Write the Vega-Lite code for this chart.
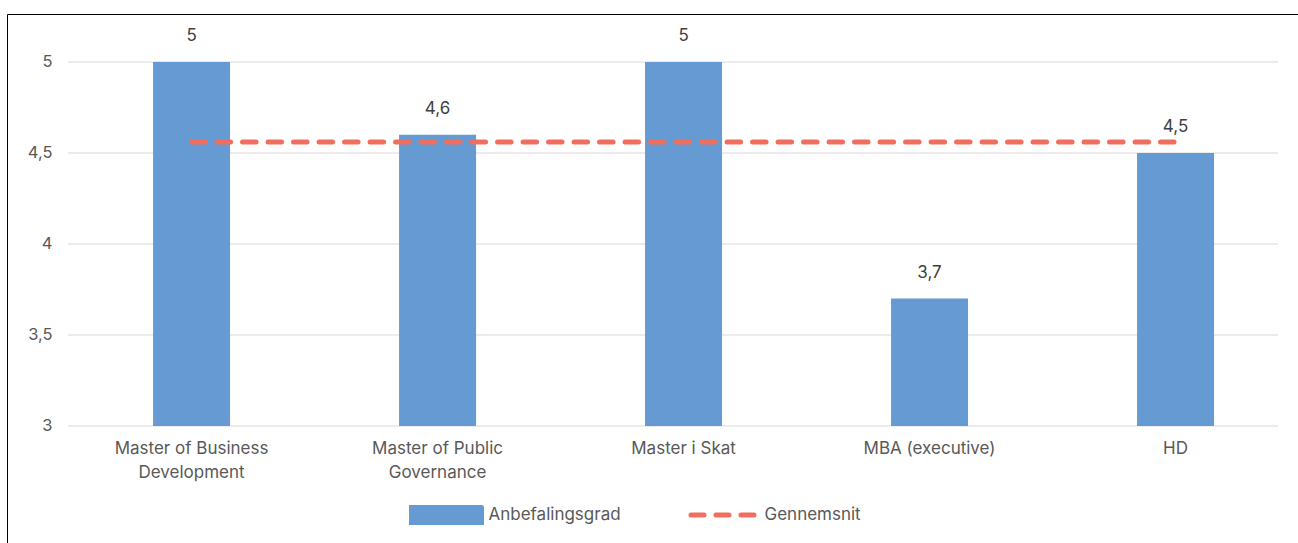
{
  "$schema": "https://vega.github.io/schema/vega-lite/v6.json",
  "width": 1291,
  "height": 530,
  "autosize": "none",
  "padding": {"left": 7, "top": 14, "right": 0, "bottom": 0},
  "background": "white",
  "config": {
    "view": {"stroke": "#000000", "strokeWidth": 1},
    "font": "Inter",
    "locale": {"number": {"decimal": ",", "thousands": ".", "grouping": [3], "currency": ["", " kr."]}}
  },
  "datasets": {
    "main": [
      {"uddannelse": "Master of Business Development", "Anbefalingsgrad": 5, "Gennemsnit": 4.56},
      {"uddannelse": "Master of Public Governance", "Anbefalingsgrad": 4.6, "Gennemsnit": 4.56},
      {"uddannelse": "Master i Skat", "Anbefalingsgrad": 5, "Gennemsnit": 4.56},
      {"uddannelse": "MBA (executive)", "Anbefalingsgrad": 3.7, "Gennemsnit": 4.56},
      {"uddannelse": "HD", "Anbefalingsgrad": 4.5, "Gennemsnit": 4.56}
    ],
    "grid": [{"v": 3}, {"v": 3.5}, {"v": 4}, {"v": 4.5}, {"v": 5}]
  },
  "layer": [
    {
      "data": {"name": "grid"},
      "mark": {"type": "rule", "color": "#D9D9D9", "strokeWidth": 1},
      "encoding": {
        "y": {"field": "v", "type": "quantitative"},
        "x": {"datum": "Master of Business Development", "type": "nominal", "bandPosition": -1.104},
        "x2": {"datum": "HD", "bandPosition": 1.831}
      }
    },
    {
      "data": {"name": "main"},
      "mark": {"type": "bar"},
      "encoding": {
        "x": {
          "field": "uddannelse",
          "type": "nominal",
          "sort": null,
          "scale": {
            "domain": ["Master of Business Development", "Master of Public Governance", "Master i Skat", "MBA (executive)", "HD"],
            "paddingInner": 0.687,
            "paddingOuter": 0.4675,
            "align": 0.635
          },
          "axis": {
            "orient": "bottom",
            "offset": -118,
            "domain": false,
            "ticks": false,
            "tickSize": 0,
            "grid": false,
            "title": null,
            "labelAngle": 0,
            "labelAlign": "center",
            "labelLimit": 0,
            "labelFont": "Inter",
            "labelFontSize": 17,
            "labelColor": "#595959",
            "labelPadding": 14,
            "labelBaseline": "top",
            "labelLineHeight": 24,
            "labelExpr": "datum.value == 'Master of Business Development' ? ['Master of Business', 'Development'] : datum.value == 'Master of Public Governance' ? ['Master of Public', 'Governance'] : datum.label"
          }
        },
        "y": {
          "field": "Anbefalingsgrad",
          "type": "quantitative",
          "scale": {"domain": [2.351648, 5.263736], "nice": false, "zero": false},
          "axis": {
            "orient": "left",
            "offset": -61,
            "values": [3, 3.5, 4, 4.5, 5],
            "format": "~g",
            "domain": false,
            "ticks": false,
            "tickSize": 0,
            "grid": false,
            "title": null,
            "labelFont": "Inter",
            "labelFontSize": 16.5,
            "labelColor": "#595959",
            "labelPadding": 16
          }
        },
        "y2": {"datum": 3},
        "color": {
          "datum": "Anbefalingsgrad",
          "type": "nominal",
          "scale": {"domain": ["Anbefalingsgrad", "Gennemsnit"], "range": ["#669AD3", "#F06E5E"]},
          "legend": {
            "orient": "none",
            "legendX": 402,
            "legendY": 463,
            "direction": "horizontal",
            "title": null,
            "padding": 0,
            "symbolSize": 4900,
            "symbolStrokeWidth": 5,
            "symbolType": "M-1,-0.2143H1V0.2143H-1Z",
            "labelFont": "Inter",
            "labelFontSize": 17,
            "labelColor": "#595959",
            "labelOffset": 4.5,
            "columnPadding": 56,
            "encode": {
              "symbols": {
                "update": {
                  "size": {"value": 4900},
                  "shape": {"signal": "datum.value === 'Gennemsnit' ? 'M-1,-0.2143M1,0.2143M-0.9,0H0.9' : 'M-1,-0.2143H1V0.2143H-1Z'"},
                  "fill": {"signal": "datum.value === 'Gennemsnit' ? 'transparent' : '#669AD3'"},
                  "stroke": {"signal": "datum.value === 'Gennemsnit' ? '#F06E5E' : 'transparent'"},
                  "strokeWidth": {"value": 5},
                  "strokeDash": {"signal": "datum.value === 'Gennemsnit' ? [13, 12] : [1, 0]"},
                  "strokeCap": {"value": "round"},
                  "opacity": {"value": 1}
                }
              }
            }
          }
        }
      }
    },
    {
      "data": {"name": "main"},
      "mark": {"type": "line", "strokeWidth": 5, "strokeDash": [13.5, 12], "strokeCap": "round"},
      "encoding": {
        "x": {"field": "uddannelse", "type": "nominal", "sort": null},
        "y": {"field": "Gennemsnit", "type": "quantitative"},
        "color": {"datum": "Gennemsnit", "type": "nominal"}
      }
    },
    {
      "data": {"name": "main"},
      "mark": {"type": "text", "baseline": "alphabetic", "dy": -20.5, "fontSize": 17, "font": "Inter", "color": "#404040"},
      "encoding": {
        "x": {"field": "uddannelse", "type": "nominal", "sort": null},
        "y": {"field": "Anbefalingsgrad", "type": "quantitative"},
        "text": {"field": "Anbefalingsgrad", "type": "quantitative", "format": "~g"}
      }
    }
  ]
}
